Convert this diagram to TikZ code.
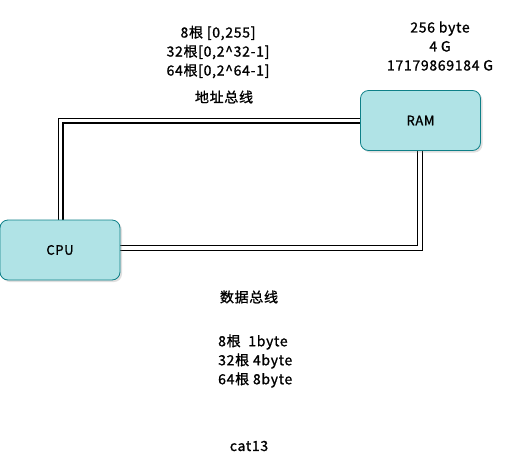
\documentclass[tikz,border=0pt]{standalone}
\usepackage{fontspec}
\setmainfont{Noto Sans CJK SC}[LetterSpace=5,FakeBold=1.2]
\usetikzlibrary{shadows}
\definecolor{boxfill}{HTML}{B0E3E6}
\definecolor{boxdraw}{HTML}{0E8088}
\begin{document}
\begin{tikzpicture}[x=1pt,y=-1pt,
  unit/.style={draw=boxdraw,fill=boxfill,rounded corners=8pt,minimum width=120pt,minimum height=60pt,line width=0.8pt,
    drop shadow={shadow xshift=2pt,shadow yshift=-2pt,opacity=0.25}},
  busout/.style={line width=6pt,black},
  busin/.style={line width=3.6pt,white},
  txt/.style={font=\fontsize{14}{19}\selectfont,align=center,inner sep=0pt}]
\useasboundingbox (0,0) rectangle (522,472);
\coordinate (a1) at (60.5,120.5);
\coordinate (d1) at (420,248);
\coordinate (cpuc) at (60,250);
\coordinate (ramc) at (420.5,120.5);
\draw[busout] (cpuc -| a1) -- (a1) -- (ramc |- a1);
\draw[busin] (cpuc -| a1) -- (a1) -- (ramc |- a1);
\draw[busout] (ramc -| d1) -- (d1) -- (cpuc |- d1);
\draw[busin] (ramc -| d1) -- (d1) -- (cpuc |- d1);
\node[unit] (cpu) at (cpuc) {\fontsize{13}{15}\selectfont CPU};
\node[unit] (ram) at (ramc) {\fontsize{13}{15}\selectfont RAM};
\node[txt] (addr) at (218,52) {8根 [0,255]\\32根[0,2\^{}32-1]\\64根[0,2\^{}64-1]};
\node[txt] (addrname) at (224,97) {地址总线};
\node[txt] (cap) at (440,46) {256 byte\\4 G\\17179869184 G};
\node[txt] (dataname) at (249,297) {数据总线};
\node[txt,align=left,anchor=west] (data) at (218,361) {8根\ \ 1byte\\32根 4byte\\64根 8byte};
\node[txt] (cat) at (249,446) {cat13};
\end{tikzpicture}
\end{document}
